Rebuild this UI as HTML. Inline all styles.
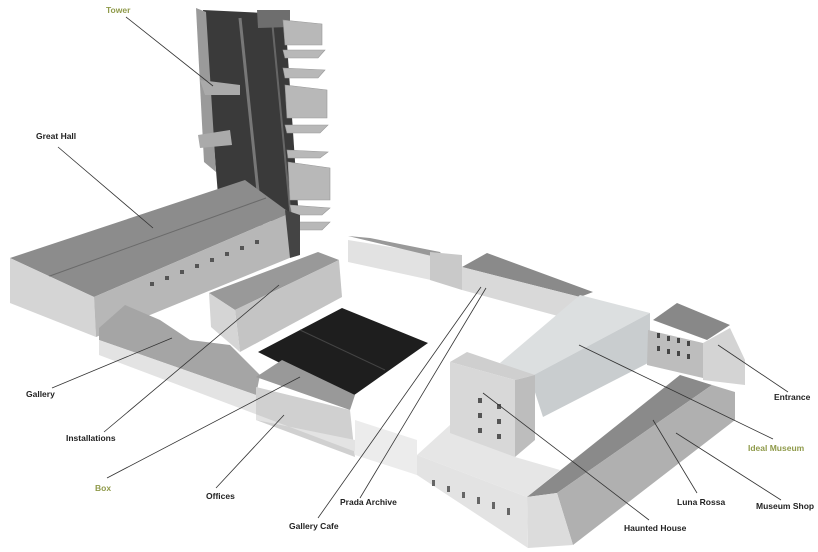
<!DOCTYPE html>
<html><head><meta charset="utf-8"><style>
html,body{margin:0;padding:0;background:#fff;}
svg{display:block;}
text{font-family:"Liberation Sans",sans-serif;font-size:8.5px;font-weight:bold;fill:#222;}
.g{fill:#8f9a4a;}
</style></head><body>
<svg width="818" height="552" viewBox="0 0 818 552" xmlns="http://www.w3.org/2000/svg">
<!-- Tower -->
<polygon points="203,10 285,14 300,235 218,195" fill="#3a3a3a"/>
<polygon points="196,8 206,12 216,172 204,162" fill="#9a9a9a"/>
<line x1="240" y1="18" x2="262" y2="230" stroke="#777" stroke-width="3"/>
<line x1="272" y1="20" x2="292" y2="230" stroke="#666" stroke-width="2"/>
<polygon points="257,10 290,10 290,27 258,28" fill="#6e6e6e"/>
<g fill="#b8b8b8" stroke="#999" stroke-width="0.6">
<polygon points="283,20 322,24 322,45 285,45"/>
<polygon points="283,50 325,50 318,58 285,58"/>
<polygon points="283,68 325,70 318,78 285,78"/>
<polygon points="285,85 327,90 327,118 287,118"/>
<polygon points="285,125 328,125 320,133 287,133"/>
<polygon points="287,150 328,152 320,158 288,158"/>
<polygon points="288,162 330,168 330,200 290,200"/>
<polygon points="290,205 330,208 322,215 292,215"/>
<polygon points="292,222 330,222 322,230 294,230"/>
</g>
<g fill="#aaa"><polygon points="200,80 240,85 240,95 205,95"/><polygon points="198,135 230,130 232,145 200,148"/></g>
<!-- Great Hall -->
<polygon points="10,258 245,180 290,213 94,297" fill="#8c8c8c"/>
<line x1="47" y1="277" x2="266" y2="198" stroke="#6a6a6a" stroke-width="1"/>
<polygon points="10,258 94,297 96,337 10,303" fill="#d5d5d5"/>
<polygon points="94,297 290,213 292,257 96,337" fill="#b7b7b7"/>
<polygon points="285,210 300,215 300,255 290,258" fill="#444"/>
<g fill="#555"><rect x="150" y="282" width="4" height="4"/><rect x="165" y="276" width="4" height="4"/><rect x="180" y="270" width="4" height="4"/><rect x="195" y="264" width="4" height="4"/><rect x="210" y="258" width="4" height="4"/><rect x="225" y="252" width="4" height="4"/><rect x="240" y="246" width="4" height="4"/><rect x="255" y="240" width="4" height="4"/></g>
<!-- Back buildings -->
<polygon points="348,240 440,255 440,282 348,262" fill="#e2e2e2"/>
<polygon points="348,236 370,238 440,252 448,262 440,258" fill="#999"/>
<polygon points="430,252 462,255 462,290 430,280" fill="#c9c9c9"/>
<polygon points="462,267 487,253 593,292 580,297" fill="#8a8a8a"/>
<polygon points="462,267 580,297 580,322 462,290" fill="#d9d9d9"/>
<!-- Ideal Museum box -->
<polygon points="500,363 580,295 650,313 530,377" fill="#dcdfe0"/>
<polygon points="530,377 650,313 650,362 543,417" fill="#c9cdcf"/>
<!-- Entrance -->
<polygon points="653,320 677,303 730,325 707,340" fill="#888"/>
<polygon points="648,330 703,343 703,378 647,365" fill="#bdbdbd"/>
<polygon points="703,343 730,328 745,360 745,385 703,380" fill="#d4d4d4"/>
<g fill="#444"><rect x="657" y="333" width="3" height="5"/><rect x="667" y="336" width="3" height="5"/><rect x="677" y="338" width="3" height="5"/><rect x="687" y="341" width="3" height="5"/><rect x="657" y="346" width="3" height="5"/><rect x="667" y="349" width="3" height="5"/><rect x="677" y="351" width="3" height="5"/><rect x="687" y="354" width="3" height="5"/></g>
<!-- Courtyard slab -->
<polygon points="417,455 450,425 515,457 560,470 527,497" fill="#e6e6e6"/>
<!-- Haunted house -->
<polygon points="450,362 467,352 535,375 515,380" fill="#cfcfcf"/>
<polygon points="450,362 515,380 515,457 450,433" fill="#d8d8d8"/>
<polygon points="515,380 535,375 535,440 515,457" fill="#bdbdbd"/>
<g fill="#555"><rect x="478" y="398" width="4" height="5"/><rect x="478" y="413" width="4" height="5"/><rect x="478" y="428" width="4" height="5"/><rect x="497" y="404" width="4" height="5"/><rect x="497" y="419" width="4" height="5"/><rect x="497" y="434" width="4" height="5"/></g>
<!-- Luna Rossa -->
<polygon points="527,497 680,375 712,385 557,493" fill="#8a8a8a"/>
<polygon points="557,493 712,385 735,392 735,420 573,545" fill="#b0b0b0"/>
<polygon points="527,497 557,493 573,545 528,548" fill="#dcdcdc"/>
<!-- Installations -->
<polygon points="209,293 318,252 339,260 235,310" fill="#999"/>
<polygon points="235,310 339,260 342,297 240,352" fill="#c4c4c4"/>
<polygon points="209,293 235,310 240,352 211,327" fill="#d5d5d5"/>
<!-- Gallery roofs -->
<polygon points="99,328 125,305 160,320 190,340 230,345 260,375 256,395 99,340" fill="#a5a5a5"/>
<!-- Box -->
<polygon points="258,352 342,308 428,343 350,398" fill="#1e1e1e"/>
<line x1="300" y1="330" x2="385" y2="370" stroke="#444" stroke-width="1"/>
<!-- Offices -->
<polygon points="256,377 282,360 355,395 350,410" fill="#999"/>
<polygon points="256,387 350,410 355,457 256,420" fill="#d0d0d0"/>
<!-- Front facade strip -->
<polygon points="99,340 256,395 256,420 355,440 417,455 527,497 528,548 417,475 99,355" fill="#e3e3e3"/>
<polygon points="355,420 417,440 417,475 355,455" fill="#ececec"/>
<g fill="#666"><rect x="432" y="480" width="3" height="6"/><rect x="447" y="486" width="3" height="6"/><rect x="462" y="492" width="3" height="6"/><rect x="477" y="497" width="3" height="7"/><rect x="492" y="502" width="3" height="7"/><rect x="507" y="508" width="3" height="7"/></g>
<!-- Leader lines -->
<g stroke="#333" stroke-width="0.8">
<line x1="126" y1="17" x2="213" y2="86"/>
<line x1="58" y1="147" x2="153" y2="228"/>
<line x1="52" y1="388" x2="172" y2="338"/>
<line x1="104" y1="432" x2="279" y2="285"/>
<line x1="107" y1="478" x2="300" y2="377"/>
<line x1="216" y1="488" x2="284" y2="415"/>
<line x1="318" y1="518" x2="481" y2="287"/>
<line x1="360" y1="498" x2="486" y2="288"/>
<line x1="649" y1="520" x2="483" y2="393"/>
<line x1="697" y1="493" x2="653" y2="420"/>
<line x1="781" y1="500" x2="676" y2="433"/>
<line x1="773" y1="439" x2="579" y2="345"/>
<line x1="788" y1="392" x2="718" y2="345"/>
</g>
<!-- Labels -->
<text x="106" y="13" class="g">Tower</text>
<text x="36" y="139">Great Hall</text>
<text x="26" y="397">Gallery</text>
<text x="66" y="441">Installations</text>
<text x="95" y="491" class="g">Box</text>
<text x="206" y="499">Offices</text>
<text x="289" y="529">Gallery Cafe</text>
<text x="340" y="505">Prada Archive</text>
<text x="624" y="531">Haunted House</text>
<text x="677" y="505">Luna Rossa</text>
<text x="756" y="509">Museum Shop</text>
<text x="748" y="451" class="g">Ideal Museum</text>
<text x="774" y="400">Entrance</text>
</svg>
</body></html>
